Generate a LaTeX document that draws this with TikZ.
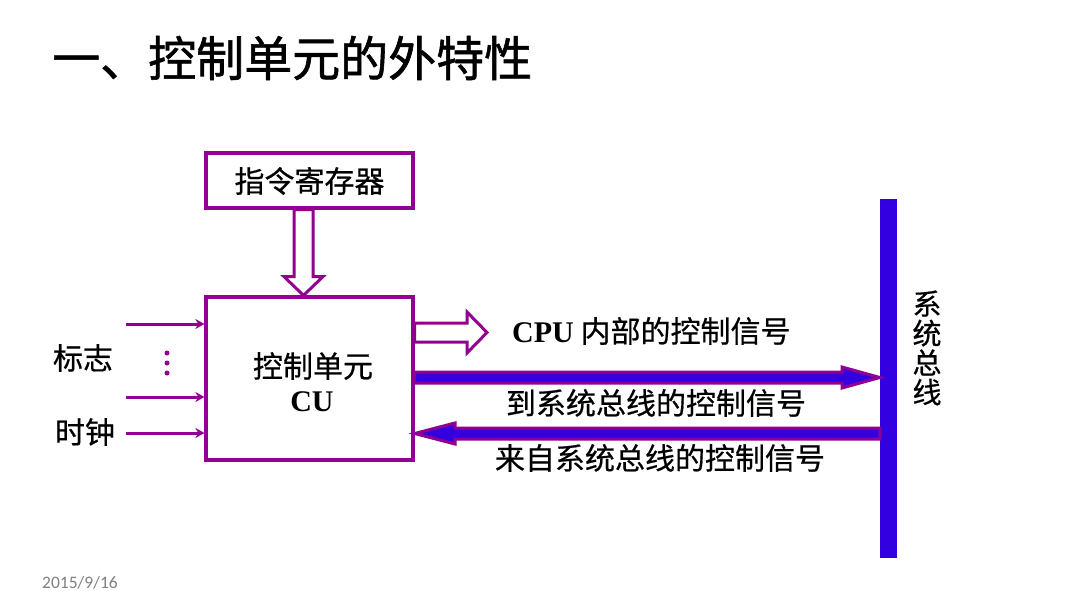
\documentclass[tikz,border=0pt]{standalone}
\usepackage{fontspec}
\newfontfamily\cjk{Noto Sans CJK SC}[FakeBold=0.6]
\newfontfamily\cjkt{Noto Sans CJK SC}[FakeBold=1.2]
\newfontfamily\serifb{Liberation Serif}
\newfontfamily\datefont{Carlito}
\usetikzlibrary{calc,arrows.meta}
\definecolor{cupurple}{RGB}{145,0,145}
\definecolor{busblue}{RGB}{51,0,224}
\definecolor{dategray}{RGB}{128,128,128}
\tikzset{
  boxstyle/.style={draw=cupurple, line width=3.2pt, fill=white, inner sep=0pt},
  hollowarrow/.style={draw=cupurple, line width=3pt, fill=white, line join=miter},
  fatarrow/.style={draw=cupurple, line width=3pt, fill=busblue, line join=miter},
  inarrow/.style={draw=cupurple, line width=3pt, -{Stealth[length=9pt,width=10pt]}},
  lbl/.style={inner sep=0pt, font=\cjk\fontsize{30}{32}\selectfont},
}
\begin{document}
\begin{tikzpicture}[x=1pt,y=-1pt]
\useasboundingbox (0,0) rectangle (1079,591);
% title
\node[inner sep=0pt, anchor=west, font=\cjkt\fontsize{48}{50}\selectfont] (title) at (52,58) {一、控制单元的外特性};
% boxes
\node[boxstyle, minimum width=207pt, minimum height=55pt] (ir) at (309.5,180.5) {};
\node[lbl] (irtext) at (309.5,181) {指令寄存器};
\node[boxstyle, minimum width=207pt, minimum height=163pt] (cu) at (309.5,378.5) {};
\node[lbl] (cutext) at (313,366) {控制单元};
\node[inner sep=0pt, font=\serifb\bfseries\fontsize{30}{32}\selectfont] (cuabbr) at (312,402) {CU};
% system bus
\node[fill=busblue, minimum width=17pt, minimum height=359pt, inner sep=0pt] (bus) at (888.5,378.5) {};
\node[lbl, align=center, font=\cjk\fontsize{29}{29.5}\selectfont] (bustext) at (927,348) {系\\统\\总\\线};
% hollow arrow down (instruction register -> CU)
\draw[hollowarrow] ($(ir.south)+(-15.5,0)$) -- ($(ir.south)+(3.5,0)$) -- ($(ir.south)+(3.5,67)$) -- ($(ir.south)+(13.5,67)$) -- ($(cu.north)+(-6,0)$) -- ($(ir.south)+(-25.5,67)$) -- ($(ir.south)+(-15.5,67)$) -- cycle;
% hollow arrow right (CPU internal)
\coordinate (cpuend) at (487,332.5);
\draw[hollowarrow] (cu.east |- 0,323) -- (467,323) -- (467,312) -- (cpuend) -- (467,353) -- (467,342) -- (cu.east |- 0,342) -- cycle;
\node[inner sep=0pt, anchor=west, font=\cjk\fontsize{30}{32}\selectfont] (cpulbl) at (512,331) {{\serifb\bfseries CPU} 内部的控制信号};
% fat arrow to bus
\draw[fatarrow] (cu.east |- 0,372) -- (842,372) -- (842,367) -- (bus.west |- 0,377.5) -- (842,388) -- (842,383) -- (cu.east |- 0,383) -- cycle;
\node[lbl] (tolbl) at (656,403) {到系统总线的控制信号};
% fat arrow from bus
\draw[fatarrow] (bus.west |- 0,428) -- (455,428) -- (455,423) -- (cu.east |- 0,433.5) -- (455,444) -- (455,439) -- (bus.west |- 0,439) -- cycle;
\node[lbl] (fromlbl) at (660,458) {来自系统总线的控制信号};
% inputs
\coordinate (in1) at (126,324);
\coordinate (in2) at (126,397);
\coordinate (in3) at (126,433);
\draw[inarrow] (in1) -- (cu.west |- in1);
\draw[inarrow] (in2) -- (cu.west |- in2);
\draw[inarrow] (in3) -- (cu.west |- in3);
\node[lbl] (flag) at (83,358) {标志};
\node[lbl] (clock) at (85,432) {时钟};
\fill[cupurple] (167,353) circle (2.5pt) (167,363) circle (2.5pt) (167,373) circle (2.5pt);
% date
\node[inner sep=0pt, anchor=west, text=dategray, font=\datefont\fontsize{17.5}{19}\selectfont] (date) at (42,583) {2015/9/16};
\end{tikzpicture}
\end{document}
